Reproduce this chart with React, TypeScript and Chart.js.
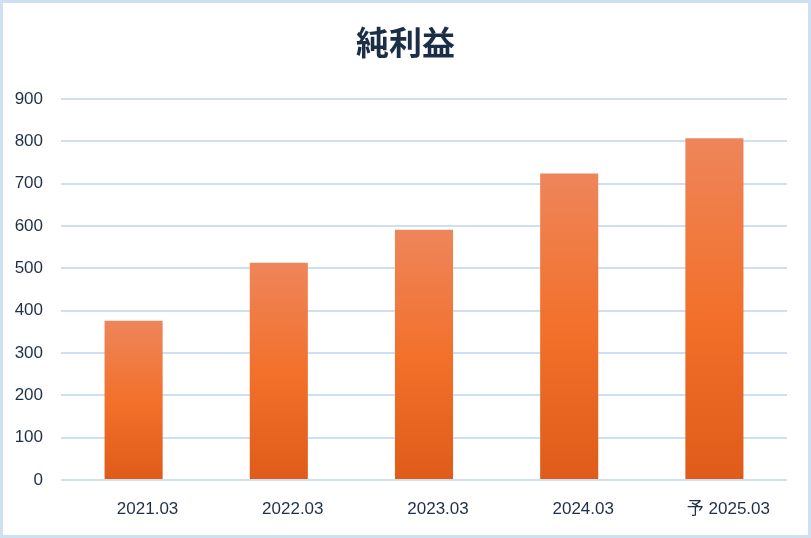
import React, { useEffect, useRef } from "react";
import { Chart, registerables } from "chart.js";

Chart.register(...registerables);

const categories = ["2021.03", "2022.03", "2023.03", "2024.03", "予 2025.03"];
const netIncome = [376, 513, 591, 724, 807];
const yTicks = [0, 100, 200, 300, 400, 500, 600, 700, 800, 900];
const titleText = "純利益";

export default function App() {
  const ref = useRef<HTMLCanvasElement | null>(null);

  useEffect(() => {
    document.body.style.margin = "0";
    const canvas = ref.current;
    if (!canvas) return;
    const font = "'Liberation Sans', Arial, 'Noto Sans CJK JP', sans-serif";
    const chart = new Chart(canvas, {
      type: "bar",
      data: {
        labels: categories,
        datasets: [
          {
            data: netIncome,
            backgroundColor: (ctx: any) => {
              const c = ctx.chart;
              const ys = c.scales?.y;
              if (!ys || ctx.type !== "data" || !ctx.parsed) return "#f07030";
              const top = ys.getPixelForValue(ctx.parsed.y);
              const bottom = ys.getPixelForValue(0);
              if (!isFinite(top) || !isFinite(bottom) || top === bottom) return "#f07030";
              const g = c.ctx.createLinearGradient(0, top, 0, bottom);
              g.addColorStop(0, "#ee855a");
              g.addColorStop(0.52, "#f2702a");
              g.addColorStop(1, "#df5b19");
              return g;
            },
            borderWidth: 0,
            barPercentage: 0.4,
            categoryPercentage: 1,
            yAxisID: "y",
          },
        ],
      },
      options: {
        animation: false,
        responsive: false,
        maintainAspectRatio: false,
        layout: { padding: 0 },
        plugins: {
          legend: { display: false },
          tooltip: { enabled: false },
          title: {
            display: true,
            text: titleText,
            color: "#1b2e48",
            font: { family: "'Noto Sans CJK JP', sans-serif", size: 33, weight: "bold", lineHeight: 1.2 },
            padding: { top: 19.7, bottom: 36.7 },
          },
        },
        scales: {
          x: {
            afterFit: (scale: any) => {
              scale.height = 55;
            },
            grid: { display: false, drawTicks: false },
            border: { display: false },
            ticks: { color: "#1f2f47", font: { family: font, size: 17 }, padding: 19, maxRotation: 0, labelOffset: 14 },
          },
          y: {
            position: "left",
            min: 0,
            max: 900,
            afterBuildTicks: (scale: any) => {
              scale.ticks = yTicks.map((v) => ({ value: v }));
            },
            afterFit: (scale: any) => {
              scale.width = 58;
            },
            grid: { color: "#cddff2", lineWidth: 2, drawTicks: false },
            border: { display: false },
            ticks: { color: "#1f2f47", font: { family: font, size: 17 }, padding: 18 },
          },
          yRight: {
            position: "right",
            min: 0,
            max: 900,
            afterFit: (scale: any) => {
              scale.width = 21;
            },
            grid: { display: false, drawTicks: false },
            border: { display: false },
            ticks: { display: false },
          },
        },
      },
    });
    return () => chart.destroy();
  }, []);

  return (
    <div
      style={{
        position: "absolute",
        left: 0,
        top: 0,
        width: 811,
        height: 538,
        boxSizing: "border-box",
        border: "3px solid #cfe0f3",
        background: "#fff",
      }}
    >
      <canvas ref={ref} width={805} height={532} style={{ display: "block", width: 805, height: 532 }} />
    </div>
  );
}
